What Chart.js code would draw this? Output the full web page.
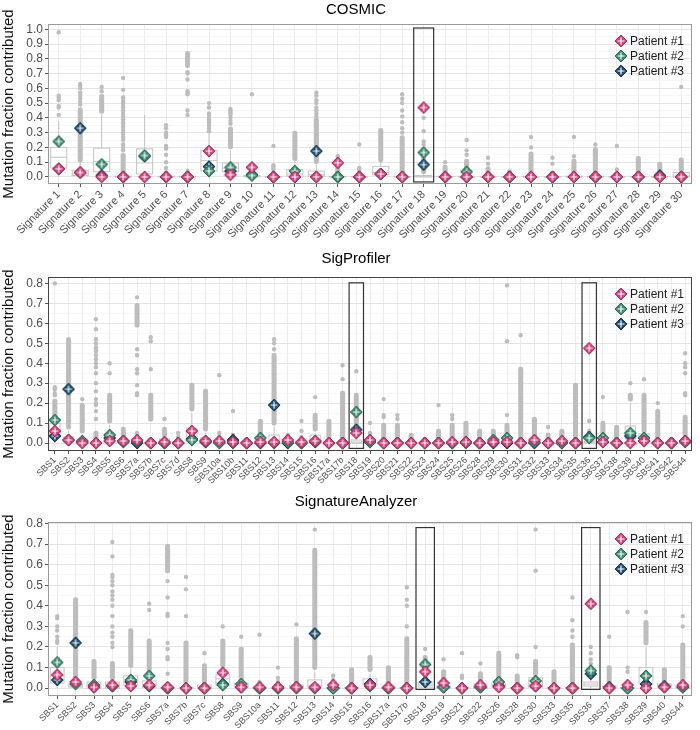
<!DOCTYPE html>
<html>
<head>
<meta charset="utf-8">
<script src="https://cdn.jsdelivr.net/npm/chart.js@4.4.0/dist/chart.umd.min.js"></script>
<style>
body { margin: 0; background: #fff; width: 700px; height: 730px; position: relative; overflow: hidden; }
canvas { position: absolute; left: 0; }
</style>
</head>
<body>
<canvas id="c1" width="700" height="240" style="top:0px"></canvas>
<canvas id="c2" width="700" height="244" style="top:240px"></canvas>
<canvas id="c3" width="700" height="246" style="top:484px"></canvas>
<script>
// ---------- COSMIC ----------
var cosmicLabels = ["Signature 1","Signature 2","Signature 3","Signature 4","Signature 5","Signature 6","Signature 7","Signature 8","Signature 9","Signature 10",
  "Signature 11","Signature 12","Signature 13","Signature 14","Signature 15","Signature 16","Signature 17","Signature 18","Signature 19","Signature 20",
  "Signature 21","Signature 22","Signature 23","Signature 24","Signature 25","Signature 26","Signature 27","Signature 28","Signature 29","Signature 30"];
// [q1, median, q3, whisker low, whisker high]
var cosmicBox = [[0.06,0.133,0.2,0,0.38],[0.01,0.02,0.045,0,0.095],[0.035,0.105,0.195,0,0.42],[0,0,0.005,0,0.012],[0.02,0.095,0.19,0,0.42],
  [0,0,0.002,0,0.005],[0,0,0.002,0,0.004],[0.04,0.11,0.18,0,0.3],[0.035,0.06,0.095,0,0.18],[0,0.005,0.01,0,0.02],
  [0,0,0.002,0,0.004],[0.005,0.02,0.05,0,0.1],[0.005,0.015,0.04,0,0.085],[0,0,0.003,0,0.006],[0,0,0.002,0,0.004],
  [0.014,0.03,0.07,0,0.1],[0,0,0.003,0,0.006],[0,0.005,0.01,0,0.02],[0,0,0.003,0,0.006],[0,0,0.004,0,0.008],
  [0,0,0.002,0,0.004],[0,0,0.002,0,0.004],[0,0,0.003,0,0.006],[0,0,0.002,0,0.004],[0,0,0.005,0,0.01],
  [0,0,0.004,0,0.008],[0,0,0.002,0,0.004],[0,0,0.002,0,0.004],[0,0,0.003,0,0.006],[0,0.005,0.03,0,0.06]];
// runs of outliers packed so tight they read as a bar
var cosmicDense = [null,[0.1,0.47],[0.43,0.56],[0.015,0.16],null,null,[0.74,0.85],null,[0.19,0.34],null,
  null,[0.11,0.31],[0.09,0.4],[0.01,0.1],null,[0.1,0.33],[0.02,0.28],[0.02,0.2],[0.01,0.08],[0.01,0.12],
  [0.01,0.07],[0.01,0.05],[0.01,0.17],[0.01,0.04],[0.01,0.12],[0.01,0.2],null,[0.01,0.14],[0.01,0.1],[0.03,0.13]];
var cosmicOut = [[0.42,0.47,0.48,0.52,0.54,0.55,0.98],[0.49,0.51,0.53,0.55,0.57,0.6,0.62,0.63],[0.58,0.61],
  [0.18,0.2,0.22,0.25,0.27,0.29,0.3,0.32,0.34,0.36,0.37,0.39,0.41,0.42,0.44,0.45,0.47,0.48,0.5,0.51,0.53,0.54,0.59,0.67],[],
  [0.01,0.03,0.06,0.1,0.15,0.19,0.2,0.21,0.27,0.28,0.29,0.3,0.33,0.35],[0.02,0.04,0.42,0.45,0.56,0.57,0.58,0.66,0.7,0.71],
  [0.31,0.33,0.35,0.36,0.37,0.38,0.39,0.4,0.42,0.43,0.47,0.5],[0.36,0.38,0.4,0.42,0.43,0.44,0.45,0.46],[0.56],
  [0.03,0.05,0.06,0.07,0.08,0.21],[],[0.41,0.43,0.45,0.47,0.5,0.52,0.55,0.57],[0.12,0.14],[0.02,0.04,0.05,0.06,0.22],
  [],[0.3,0.33,0.37,0.41,0.45,0.5,0.53,0.56],[0.22,0.24,0.31,0.4],[0.1],[0.15,0.18,0.25],
  [0.09,0.13],[],[0.2,0.27],[0.09,0.13],[0.14,0.27],[0.22],[0.05,0.21],[],[],[0.61]];
var cosmicP1 = [0.055,0.03,0,0,0,0,0,0.175,0.015,0.065,0,0,0,0.095,0,0.02,0,0.47,0,0,0,0,0,0,0,0,0,0,0,0];
var cosmicP2 = [0.24,0.03,0.085,0,0.145,0,0,0.04,0.065,0.01,0,0.04,0,0,0,0.02,0,0.165,0,0.035,0,0,0,0,0,0,0,0,0,0];
var cosmicP3 = [0.055,0.33,0.01,0,0.14,0,0,0.07,0.04,0.015,0,0,0.175,0,0,0.02,0,0.083,0,0,0,0,0,0,0,0,0,0,0.01,0];
var cosmicHighlight = ["Signature 18"];
var cosmicTicks = [0,0.1,0.2,0.3,0.4,0.5,0.6,0.7,0.8,0.9,1.0];
var cosmicMinor = [0.05,0.15,0.25,0.35,0.45,0.55,0.65,0.75,0.85,0.95];

// ---------- SigProfiler ----------
var spLabels = ["SBS1","SBS2","SBS3","SBS4","SBS5","SBS6","SBS7a","SBS7b","SBS7c","SBS7d","SBS8","SBS9","SBS10a","SBS10b","SBS11","SBS12",
  "SBS13","SBS14","SBS15","SBS16","SBS17a","SBS17b","SBS18","SBS19","SBS20","SBS21","SBS22","SBS23","SBS24","SBS25","SBS26","SBS28",
  "SBS29","SBS30","SBS31","SBS32","SBS33","SBS34","SBS35","SBS36","SBS37","SBS38","SBS39","SBS40","SBS41","SBS42","SBS44"];
var spBox = [[0.03,0.06,0.1,0,0.11],[0.005,0.015,0.03,0,0.06],[0,0.005,0.02,0,0.045],[0,0,0.005,0,0.008],[0.005,0.02,0.045,0,0.09],
  [0,0,0.005,0,0.008],[0,0,0.003,0,0.006],[0,0,0.003,0,0.006],[0,0.005,0.02,0,0.025],[0,0,0.002,0,0.004],
  [0.01,0.06,0.075,0,0.15],[0,0.005,0.025,0,0.05],[0,0,0.003,0,0.006],[0,0,0.003,0,0.006],[0,0,0.002,0,0.003],
  [0,0.005,0.02,0,0.025],[0.005,0.015,0.04,0,0.08],[0,0,0.003,0,0.006],[0,0,0.002,0,0.004],[0.005,0.015,0.04,0,0.05],
  [0,0,0.003,0,0.006],[0,0,0.003,0,0.006],[0,0.005,0.015,0,0.025],[0,0,0.003,0,0.006],[0,0,0.003,0,0.006],
  [0,0,0.003,0,0.006],[0,0,0.002,0,0.004],[0,0,0.002,0,0.003],[0,0,0.002,0,0.004],[0,0,0.003,0,0.006],
  [0,0,0.003,0,0.006],[0,0,0.002,0,0.004],[0,0,0.003,0,0.006],[0,0.005,0.015,0,0.02],[0,0,0.004,0,0.008],
  [0,0,0.004,0,0.008],[0,0,0.002,0,0.004],[0,0,0.003,0,0.006],[0,0,0.01,0,0.015],[0,0.005,0.01,0,0.02],
  [0,0,0.004,0,0.008],[0,0,0.003,0,0.006],[0.02,0.04,0.085,0,0.2],[0.01,0.02,0.045,0,0.05],[0,0,0.004,0,0.008],
  [0,0,0.002,0,0.004],[0,0,0.004,0,0.008]];
var spDense = [[0.12,0.22],[0.07,0.53],[0.05,0.2],[0.01,0.06],[0.1,0.25],[0.01,0.08],[0.58,0.7],[0.11,0.25],[0.03,0.08],null,
  [0.16,0.3],[0.06,0.27],null,null,null,[0.03,0.12],[0.09,0.45],null,null,[0.06,0.15],
  [0.02,0.12],[0.02,0.26],[0.03,0.25],null,[0.01,0.1],[0.01,0.1],[0.01,0.05],null,[0.01,0.07],[0.01,0.1],
  [0.01,0.11],[0.01,0.07],[0.01,0.07],[0.01,0.1],[0.01,0.38],[0.01,0.13],[0.01,0.05],[0.01,0.07],[0.02,0.3],null,
  [0.01,0.11],[0.01,0.09],[0.21,0.25],[0.05,0.25],[0.01,0.17],[0.005,0.02],[0.01,0.14]];
var spOut = [[0.24,0.25,0.27,0.28,0.8],[],[0.22],[0.12,0.16,0.19,0.2,0.22,0.26,0.3,0.35,0.38,0.4,0.42,0.44,0.46,0.47,0.48,0.5,0.52,0.57,0.62],
  [0.35,0.4],[],[0.02,0.04,0.05,0.24,0.25,0.29,0.35,0.37,0.44,0.47,0.73],[0.37,0.51,0.53],[0.12],[0.02,0.03,0.05],
  [],[],[0.03,0.05,0.34],[0.04,0.16],[],[],[0.47,0.5,0.52],[0.02,0.04],[0.03,0.06,0.11],[0.23],
  [],[0.32,0.39],[0.36],[0.02,0.04,0.05,0.1],[0.13,0.14,0.22],[0.12,0.14],[],[0.01,0.02],[0.19],[0.12,0.14],
  [],[],[],[0.14,0.51,0.79],[0.54],[],[0.08],[],[],[0.03,0.05,0.06,0.11],
  [0.23],[],[0.3],[0.32],[0.2],[],[0.24,0.25,0.35,0.38,0.4,0.45]];
var spP1 = [0.06,0.015,0,0,0.01,0.01,0.015,0,0.005,0,0.06,0.01,0.01,0.005,0,0.005,0.005,0.015,0.005,0.01,0,0,0.05,0.015,
  0,0,0,0,0,0.005,0.005,0,0.005,0.005,0,0.015,0,0.01,0,0.475,0.005,0,0,0.01,0,0,0.01];
var spP2 = [0.115,0.015,0.01,0,0.04,0.005,0.01,0,0,0,0.015,0.01,0,0,0,0.025,0,0.005,0,0.01,0,0,0.155,0.005,
  0,0,0,0,0,0,0,0,0.015,0.025,0,0.005,0,0,0,0.025,0.025,0,0.05,0.025,0,0,0.005];
var spP3 = [0.035,0.27,0.005,0,0.025,0.01,0,0,0,0,0.02,0.005,0.005,0.015,0,0,0.19,0,0,0.005,0,0,0.067,0.005,
  0,0,0,0,0,0,0.005,0,0,0,0,0,0,0,0,0.03,0.005,0,0.035,0.01,0,0,0.01];
var spHighlight = ["SBS18","SBS36"];
var spTicks = [0,0.1,0.2,0.3,0.4,0.5,0.6,0.7,0.8];
var spMinor = [0.05,0.15,0.25,0.35,0.45,0.55,0.65,0.75];

// ---------- SignatureAnalyzer ----------
var saLabels = ["SBS1","SBS2","SBS3","SBS4","SBS5","SBS6","SBS7a","SBS7b","SBS7c","SBS8","SBS9","SBS10a","SBS11","SBS12","SBS13","SBS14",
  "SBS15","SBS16","SBS17a","SBS17b","SBS18","SBS19","SBS21","SBS22","SBS26","SBS28","SBS30","SBS33","SBS35","SBS36","SBS37","SBS38",
  "SBS39","SBS40","SBS44"];
var saBox = [[0.025,0.06,0.1,0,0.2],[0.005,0.01,0.02,0,0.025],[0,0.01,0.03,0,0.035],[0,0.01,0.03,0,0.035],[0.015,0.03,0.06,0,0.095],
  [0.005,0.015,0.035,0,0.05],[0,0,0.003,0,0.006],[0,0,0.003,0,0.006],[0,0.005,0.015,0,0.02],[0.015,0.045,0.065,0,0.095],
  [0.005,0.01,0.025,0,0.03],[0,0,0.003,0,0.006],[0,0,0.003,0,0.006],[0,0.005,0.015,0,0.02],[0.005,0.015,0.04,0,0.08],
  [0,0,0.003,0,0.006],[0,0,0.003,0,0.006],[0.015,0.025,0.045,0,0.07],[0,0,0.005,0,0.008],[0,0,0.003,0,0.006],
  [0.005,0.015,0.03,0,0.045],[0,0.005,0.01,0,0.015],[0,0,0.003,0,0.006],[0,0.005,0.01,0,0.015],[0.005,0.01,0.02,0,0.025],
  [0,0,0.003,0,0.006],[0.005,0.02,0.05,0,0.055],[0,0,0.003,0,0.006],[0,0,0.004,0,0.008],[0.01,0.02,0.03,0,0.05],
  [0,0.005,0.01,0,0.015],[0,0,0.003,0,0.006],[0.02,0.06,0.1,0,0.2],[0.005,0.01,0.02,0,0.025],[0,0.005,0.01,0,0.015]];
var saDense = [null,[0.03,0.44],[0.04,0.14],[0.04,0.13],[0.1,0.29],[0.06,0.24],[0.56,0.7],[0.02,0.23],[0.02,0.12],[0.1,0.24],
  [0.03,0.2],null,null,[0.02,0.25],[0.09,0.68],null,[0.01,0.1],[0.08,0.16],[0.01,0.11],[0.01,0.25],
  [0.05,0.16],[0.01,0.09],null,[0.01,0.08],[0.03,0.18],[0.01,0.07],[0.06,0.14],[0.01,0.09],[0.01,0.22],null,
  [0.01,0.11],null,[0.21,0.33],[0.03,0.1],[0.01,0.22]];
var saOut = [[0.22,0.23,0.25,0.28,0.3,0.34,0.35],[],[],[0.2,0.22,0.25,0.27,0.3,0.35,0.4,0.43,0.45,0.47,0.5,0.52,0.54,0.55,0.64,0.71],[],
  [0.38,0.41],[0.07,0.14,0.15,0.19,0.22,0.35,0.36,0.44,0.52],[0.35,0.48,0.54],[0.17],[0.3],
  [0.25],[0.02,0.03,0.26],[0.03,0.05,0.1],[0.31],[0.77],[0.02,0.04,0.06],[],[],[],[0.3,0.4,0.43,0.49],
  [0.19],[0.14],[0.02,0.05,0.06,0.17],[0.12],[],[0.15,0.16],[0.2,0.57,0.77],[],[0.25,0.28,0.33,0.44],[0.1,0.12,0.14,0.17,0.2],
  [0.25],[0.02,0.08,0.1,0.37],[0.37],[],[0.3,0.35]];
var saP1 = [0.065,0.03,0.005,0.015,0.01,0.015,0.005,0,0,0.075,0.005,0.005,0.005,0.005,0.005,0.015,0,0.015,0.005,0,
  0.08,0.025,0,0.015,0.005,0,0.01,0,0,0.41,0,0.015,0,0.005,0.015];
var saP2 = [0.125,0.02,0.015,0.01,0.04,0.06,0,0,0,0.015,0.02,0,0,0,0,0,0,0.01,0,0,
  0.115,0.005,0,0.005,0.03,0,0.035,0,0,0.085,0,0,0.06,0.005,0.005];
var saP3 = [0.04,0.22,0.005,0.01,0.03,0.01,0,0,0,0.02,0.005,0,0,0.005,0.265,0,0,0.02,0,0,
  0.03,0.005,0,0.005,0.01,0,0.01,0,0,0.07,0.005,0,0.02,0.01,0.005];
var saHighlight = ["SBS18","SBS36"];
var saTicks = [0,0.1,0.2,0.3,0.4,0.5,0.6,0.7,0.8];
var saMinor = [0.05,0.15,0.25,0.35,0.45,0.55,0.65,0.75];

var patientNames = ["Patient #1","Patient #2","Patient #3"];
var patientFill = ["#d1417a","#3d8b72","#1e4d6d"];
var patientEdge = ["#a82f5e","#2b6955","#133850"];

var FONT = "'Liberation Sans', Arial, sans-serif";

// diamond with a white plus, like ggplot shape 9 filled
function makeMarker(fill, edge) {
  var c = document.createElement("canvas");
  c.width = 14; c.height = 14;
  var g = c.getContext("2d");
  g.beginPath();
  g.moveTo(7, 1); g.lineTo(13, 7); g.lineTo(7, 13); g.lineTo(1, 7); g.closePath();
  g.fillStyle = fill; g.fill();
  g.strokeStyle = edge; g.lineWidth = 1; g.stroke();
  g.strokeStyle = "#fff"; g.lineWidth = 1.2;
  g.beginPath();
  g.moveTo(7, 3.5); g.lineTo(7, 10.5);
  g.moveTo(3.5, 7); g.lineTo(10.5, 7);
  g.stroke();
  return c;
}
var markers = patientFill.map(function (f, i) { return makeMarker(f, patientEdge[i]); });

function isMajor(v) { return Math.abs(v * 10 - Math.round(v * 10)) < 1e-6; }

// boxes + whiskers under the points, frame/highlight/title/legend on top
var panelPlugin = {
  id: "panel",
  beforeDatasetsDraw: function (chart, args, o) {
    var ctx = chart.ctx, x = chart.scales.x, y = chart.scales.y;
    var cw = x.getPixelForValue(1) - x.getPixelForValue(0);
    var hw = cw * 0.375;
    ctx.save();
    ctx.strokeStyle = "#c4c4c4";
    ctx.lineWidth = 1;
    o.box.forEach(function (b, i) {
      var cx = x.getPixelForValue(i);
      var yq1 = y.getPixelForValue(b[0]), ym = y.getPixelForValue(b[1]), yq3 = y.getPixelForValue(b[2]);
      var ylo = y.getPixelForValue(b[3]), yhi = y.getPixelForValue(b[4]);
      ctx.beginPath();
      ctx.moveTo(cx, yq3); ctx.lineTo(cx, yhi);
      ctx.moveTo(cx, yq1); ctx.lineTo(cx, ylo);
      ctx.stroke();
      ctx.fillStyle = "#fff";
      ctx.fillRect(cx - hw, yq3, 2 * hw, yq1 - yq3);
      ctx.strokeRect(cx - hw, yq3, 2 * hw, yq1 - yq3);
      ctx.beginPath();
      ctx.moveTo(cx - hw, ym); ctx.lineTo(cx + hw, ym);
      ctx.stroke();
    });
    ctx.restore();
  },
  afterDraw: function (chart, args, o) {
    var ctx = chart.ctx, x = chart.scales.x, y = chart.scales.y, a = chart.chartArea;
    var cw = x.getPixelForValue(1) - x.getPixelForValue(0);
    ctx.save();
    // frame
    ctx.strokeStyle = o.frame;
    ctx.lineWidth = 1;
    ctx.strokeRect(a.left + 0.5, a.top + 0.5, a.right - a.left - 1, a.bottom - a.top - 1);
    // highlight rectangles
    ctx.strokeStyle = "#333";
    ctx.lineWidth = 1.2;
    o.highlight.forEach(function (lab) {
      var cx = x.getPixelForValue(chart.data.labels.indexOf(lab));
      var top = y.getPixelForValue(o.hiRange[1]), bot = y.getPixelForValue(o.hiRange[0]);
      ctx.strokeRect(cx - o.hiWidth * cw / 2, top, o.hiWidth * cw, bot - top);
    });
    // title
    ctx.fillStyle = "#000";
    ctx.font = "15px " + FONT;
    ctx.textAlign = "center";
    ctx.textBaseline = "middle";
    ctx.fillText(o.title, 356, o.titleY);
    // legend
    ctx.font = "12px " + FONT;
    ctx.textAlign = "left";
    ctx.fillStyle = "#1a1a1a";
    patientNames.forEach(function (n, i) {
      var ly = a.top + 17 + i * 15;
      ctx.drawImage(markers[i], a.right - 78, ly - 7);
      ctx.fillText(n, a.right - 62, ly + 0.5);
    });
    ctx.restore();
  }
};

function makePanel(id, p) {
  var outPts = [];
  p.out.forEach(function (vals, i) {
    vals.forEach(function (v) { outPts.push({ x: p.labels[i], y: v }); });
  });
  var patients = [p.p1, p.p2, p.p3].map(function (arr, i) {
    return {
      type: "line", label: patientNames[i], data: arr, showLine: false,
      pointStyle: markers[i], pointRadius: 7, order: i + 1
    };
  });
  var allTicks = p.major.concat(p.minor).sort(function (a, b) { return a - b; });
  return new Chart(document.getElementById(id), {
    type: "bar",
    data: {
      labels: p.labels,
      datasets: patients.concat([
        { type: "line", label: "outliers", data: outPts, showLine: false, pointRadius: 2.2,
          pointBackgroundColor: "#bdbdbd", pointBorderWidth: 0, order: 4 },
        { type: "bar", label: "dense", data: p.dense, backgroundColor: "#bdbdbd", barThickness: 4.4,
          borderRadius: 2.2, borderSkipped: false, order: 5 }
      ])
    },
    options: {
      responsive: false,
      animation: false,
      events: [],
      layout: { padding: { top: p.plotTop, right: 2, left: 0, bottom: 0 } },
      plugins: {
        legend: { display: false },
        tooltip: { enabled: false },
        panel: { box: p.box, frame: p.frame, highlight: p.highlight, hiRange: p.hiRange, hiWidth: p.hiWidth,
                 title: p.title, titleY: p.titleY }
      },
      scales: {
        x: {
          type: "category",
          offset: true,
          grid: { offset: false, color: "#ebebeb", tickLength: 3, tickColor: "#555" },
          border: { display: false },
          ticks: { autoSkip: false, maxRotation: 45, minRotation: 45, padding: 1,
                   font: { size: p.xFont, family: FONT }, color: "#4d4d4d" },
          afterFit: function (s) { s.height = p.axisHeight; }
        },
        y: {
          min: p.yMin, max: p.yMax,
          afterBuildTicks: function (s) { s.ticks = allTicks.map(function (v) { return { value: v }; }); },
          grid: {
            color: function (c) { return isMajor(c.tick.value) ? "#e4e4e4" : "#f2f2f2"; },
            lineWidth: function (c) { return isMajor(c.tick.value) ? 1 : 0.7; },
            tickLength: 3,
            tickColor: function (c) { return isMajor(c.tick.value) ? "#555" : "rgba(0,0,0,0)"; }
          },
          border: { display: false },
          ticks: { autoSkip: false, padding: 2, font: { size: 12, family: FONT }, color: "#4d4d4d",
                   callback: function (v) { return isMajor(v) ? v.toFixed(1) : ""; } },
          title: { display: true, text: "Mutation fraction contributed", color: "#111",
                   font: { size: 15, family: FONT }, padding: { top: 0, bottom: 2 } },
          afterFit: function (s) { s.width = 48; }
        }
      }
    },
    plugins: [panelPlugin]
  });
}

makePanel("c1", {
  labels: cosmicLabels, box: cosmicBox, dense: cosmicDense, out: cosmicOut,
  p1: cosmicP1, p2: cosmicP2, p3: cosmicP3, highlight: cosmicHighlight,
  major: cosmicTicks, minor: cosmicMinor, yMin: -0.048, yMax: 1.036,
  plotTop: 24, axisHeight: 56, titleY: 10, title: "COSMIC", xFont: 11,
  frame: "#9a9a9a", hiRange: [-0.034, 1.009], hiWidth: 0.93
});
makePanel("c2", {
  labels: spLabels, box: spBox, dense: spDense, out: spOut,
  p1: spP1, p2: spP2, p3: spP3, highlight: spHighlight,
  major: spTicks, minor: spMinor, yMin: -0.04, yMax: 0.832,
  plotTop: 37, axisHeight: 33, titleY: 19, title: "SigProfiler", xFont: 9,
  frame: "#444", hiRange: [-0.027, 0.803], hiWidth: 1.05
});
makePanel("c3", {
  labels: saLabels, box: saBox, dense: saDense, out: saOut,
  p1: saP1, p2: saP2, p3: saP3, highlight: saHighlight,
  major: saTicks, minor: saMinor, yMin: -0.038, yMax: 0.807,
  plotTop: 38, axisHeight: 34, titleY: 18, title: "SignatureAnalyzer", xFont: 9,
  frame: "#9a9a9a", hiRange: [-0.006, 0.78], hiWidth: 1.0
});
</script>
</body>
</html>
